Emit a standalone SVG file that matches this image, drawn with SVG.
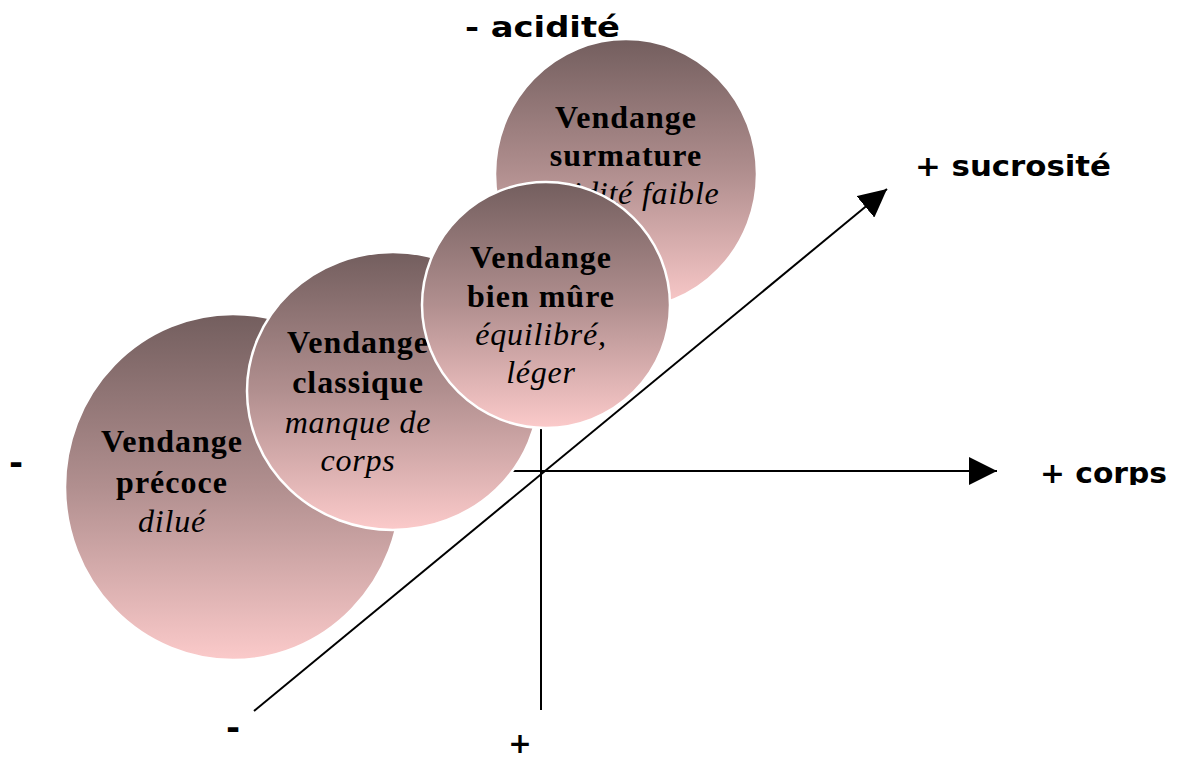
<svg xmlns="http://www.w3.org/2000/svg" width="1179" height="758" viewBox="0 0 1179 758">
  <defs>
    <linearGradient id="grape" x1="0" y1="0" x2="0" y2="1">
      <stop offset="0" stop-color="#735e5e"/>
      <stop offset="0.5" stop-color="#b18f8f"/>
      <stop offset="1" stop-color="#fbcaca"/>
    </linearGradient>
    <marker id="arrow" viewBox="0 0 10 10" refX="10" refY="5" markerWidth="28" markerHeight="28" markerUnits="userSpaceOnUse" orient="auto">
      <path d="M0,0 L10,5 L0,10 Z" fill="#000"/>
    </marker>
    <clipPath id="pageClip">
      <rect x="0" y="0" width="1179" height="485"/>
    </clipPath>
    <style>
      .axis { stroke: #000; stroke-width: 2; fill: none; }
      .bubble { fill: url(#grape); stroke: #fff; stroke-width: 2.5; }
      .title { font-family: "Liberation Serif", "Times New Roman", serif; font-weight: bold; font-size: 32px; letter-spacing: 1px; fill: #000; text-anchor: middle; }
      .note { font-family: "Liberation Serif", "Times New Roman", serif; font-style: italic; font-size: 32px; letter-spacing: 0.8px; fill: #000; text-anchor: middle; }
      .lbl { font-family: "DejaVu Sans", "Verdana", sans-serif; font-weight: bold; font-size: 28px; fill: #000; }
      .sign { font-family: "DejaVu Sans", "Verdana", sans-serif; font-weight: bold; font-size: 34px; fill: #000; text-anchor: middle; }
    </style>
  </defs>

  <!-- axes -->
  <g id="connectors">
    <line class="axis" x1="541" y1="420" x2="541" y2="710"/>
    <line class="axis" x1="400" y1="471" x2="997" y2="471" marker-end="url(#arrow)"/>
    <line class="axis" x1="254" y1="711" x2="887" y2="189" marker-end="url(#arrow)"/>
  </g>

  <!-- axis labels -->
  <g id="labels">
    <text class="lbl" x="465" y="37" textLength="155" lengthAdjust="spacingAndGlyphs">- acidité</text>
    <text class="lbl" x="915" y="176" textLength="196" lengthAdjust="spacingAndGlyphs">+ sucrosité</text>
    <text class="lbl" x="1040" y="483" textLength="127" lengthAdjust="spacingAndGlyphs" clip-path="url(#pageClip)">+ corps</text>
    <text class="sign" x="16" y="474">-</text>
    <text class="sign" x="233" y="739">-</text>
    <text class="lbl" x="520" y="753" font-size="24" text-anchor="middle">+</text>
  </g>

  <!-- harvest stages -->
  <g id="precoce">
    <ellipse class="bubble" cx="233" cy="487" rx="168" ry="173" stroke="none"/>
    <text class="title" x="172" y="452">Vendange</text>
    <text class="title" x="172" y="493">précoce</text>
    <text class="note" x="172" y="532">dilué</text>
  </g>

  <g id="classique">
    <ellipse class="bubble" cx="393" cy="391" rx="146" ry="139"/>
    <text class="title" x="358" y="353">Vendange</text>
    <text class="title" x="358" y="393">classique</text>
    <text class="note" x="358" y="433">manque de</text>
    <text class="note" x="358" y="471">corps</text>
  </g>

  <g id="surmature">
    <ellipse class="bubble" cx="626" cy="174" rx="131" ry="135" stroke="none"/>
    <text class="title" x="626" y="128">Vendange</text>
    <text class="title" x="626" y="166">surmature</text>
    <text class="note" x="630" y="204">acidité faible</text>
  </g>

  <g id="bien-mure">
    <ellipse class="bubble" cx="546" cy="305" rx="124" ry="123"/>
    <text class="title" x="541" y="268">Vendange</text>
    <text class="title" x="541" y="307">bien mûre</text>
    <text class="note" x="541" y="345">équilibré,</text>
    <text class="note" x="541" y="383">léger</text>
  </g>
</svg>
